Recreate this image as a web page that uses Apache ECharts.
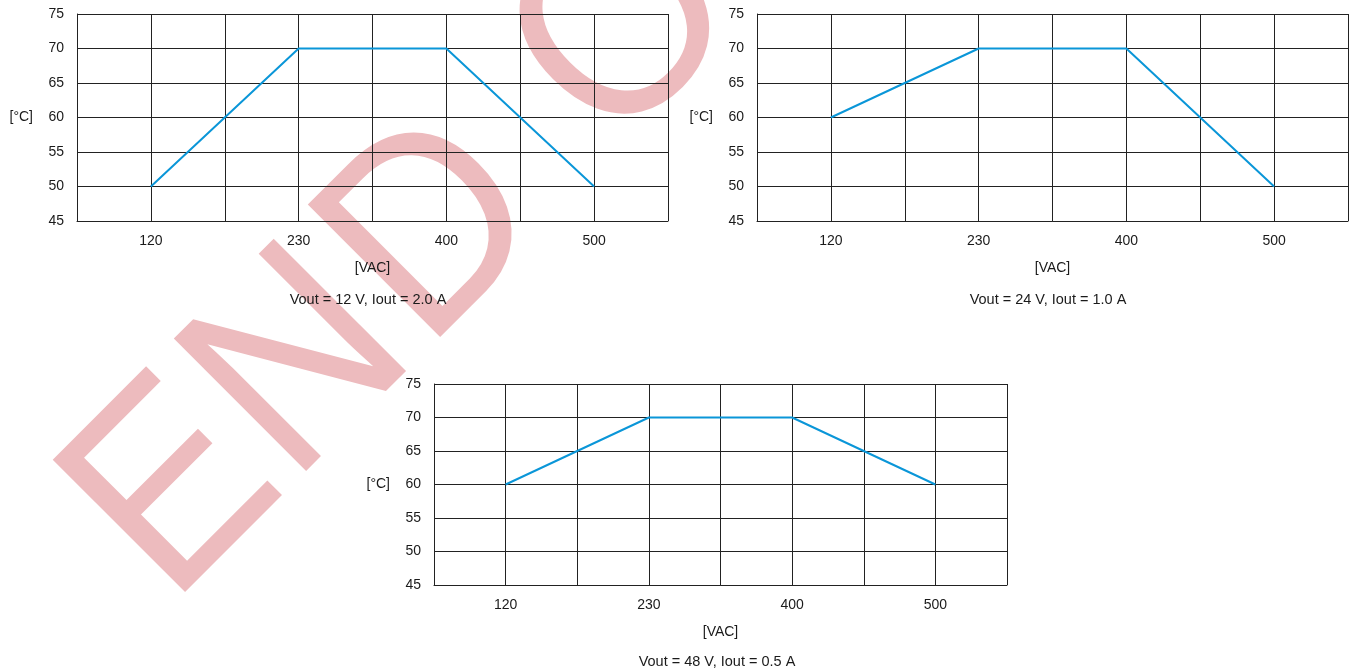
<!DOCTYPE html>
<html>
<head>
<meta charset="utf-8">
<script src="https://cdn.jsdelivr.net/npm/echarts@6/dist/echarts.min.js"></script>
<style>
html,body{margin:0;padding:0;background:#fff;}
#main{width:1354px;height:670px;}
</style>
</head>
<body>
<div id="main"></div>
<script>
// ---- data ----
const voltages = ['120', '230', '400', '500'];          // [VAC] tick labels
const temp12V = [50, 70, 70, 50];                      // Vout = 12 V, Iout = 2.0 A
const temp24V = [60, 70, 70, 50];                      // Vout = 24 V, Iout = 1.0 A
const temp48V = [60, 70, 70, 60];                      // Vout = 48 V, Iout = 0.5 A
const titles = ['Vout = 12 V, Iout = 2.0 A', 'Vout = 24 V, Iout = 1.0 A', 'Vout = 48 V, Iout = 0.5 A'];
const yTicks = [45, 50, 55, 60, 65, 70, 75];
const watermark = ['E', 'N', 'D', 'O'];

// each voltage sits on every second grid column (positions 1,3,5,7 of 0..8)
const pos = i => 2 * i + 1;
const labelAt = {};
voltages.forEach((v, i) => { labelAt[pos(i)] = v; });

const FONT = '"Liberation Sans", Arial, sans-serif';
const TXT = '#1a1a1a';
const LINE = '#222';
const BLUE = '#0a96d8';
const FS = 14;

const grids = [
  {left: 77, top: 14, width: 591, height: 207},
  {left: 757, top: 14, width: 591, height: 207},
  {left: 434, top: 384, width: 573, height: 201}
];
const titleTops = [292, 292, 654];
const titleCx = [368, 1048, 717];
const seriesData = [temp12V, temp24V, temp48V];

const wmPos = [[177, 494], [303, 368], [437, 234], [628, 32]];

const option = {
  backgroundColor: '#fff',
  animation: false,
  textStyle: {fontFamily: FONT},
  title: titles.map((t, i) => ({
    text: t, left: titleCx[i], top: titleTops[i], textAlign: 'center', padding: 0,
    textStyle: {fontSize: 14.5, fontWeight: 'normal', color: TXT, fontFamily: FONT}
  })),
  grid: grids.map(g => Object.assign({containLabel: false}, g)),
  xAxis: grids.map((g, i) => ({
    type: 'value', gridIndex: i, min: 0, max: 8, interval: 1,
    name: '[VAC]', nameLocation: 'middle', nameGap: 40,
    nameTextStyle: {fontSize: FS, color: TXT, fontFamily: FONT},
    axisLine: {show: true, lineStyle: {color: LINE, width: 1}},
    axisTick: {show: false},
    axisLabel: {margin: 13, fontSize: FS, color: TXT, fontFamily: FONT,
      formatter: v => labelAt[v] || ''},
    splitLine: {show: true, lineStyle: {color: LINE, width: 1}}
  })),
  yAxis: grids.map((g, i) => ({
    type: 'value', gridIndex: i, min: yTicks[0], max: yTicks[yTicks.length - 1], interval: 5,
    name: '[°C]', nameLocation: 'middle', nameRotate: 0, nameGap: 44,
    nameTextStyle: {fontSize: FS, color: TXT, fontFamily: FONT},
    axisLine: {show: true, lineStyle: {color: LINE, width: 1}},
    axisTick: {show: false},
    axisLabel: {margin: 13, fontSize: FS, color: TXT, fontFamily: FONT},
    splitLine: {show: true, lineStyle: {color: LINE, width: 1}}
  })),
  series: seriesData.map((arr, i) => ({
    type: 'line', xAxisIndex: i, yAxisIndex: i,
    data: arr.map((v, j) => [pos(j), v]),
    symbol: 'none', lineStyle: {color: BLUE, width: 2}, z: 5
  })),
  graphic: {
    elements: watermark.map((ch, i) => ({
      type: 'text', x: wmPos[i][0], y: wmPos[i][1], rotation: Math.PI / 4,
      scaleX: 0.93, scaleY: 1, z: -10,
      style: {text: ch, font: '272px "Liberation Sans", Arial, sans-serif',
        fill: '#EDBBBE', textAlign: 'center', textVerticalAlign: 'middle'}
    }))
  }
};

const chart = echarts.init(document.getElementById('main'), null, {renderer: 'canvas'});
chart.setOption(option);
</script>
</body>
</html>
